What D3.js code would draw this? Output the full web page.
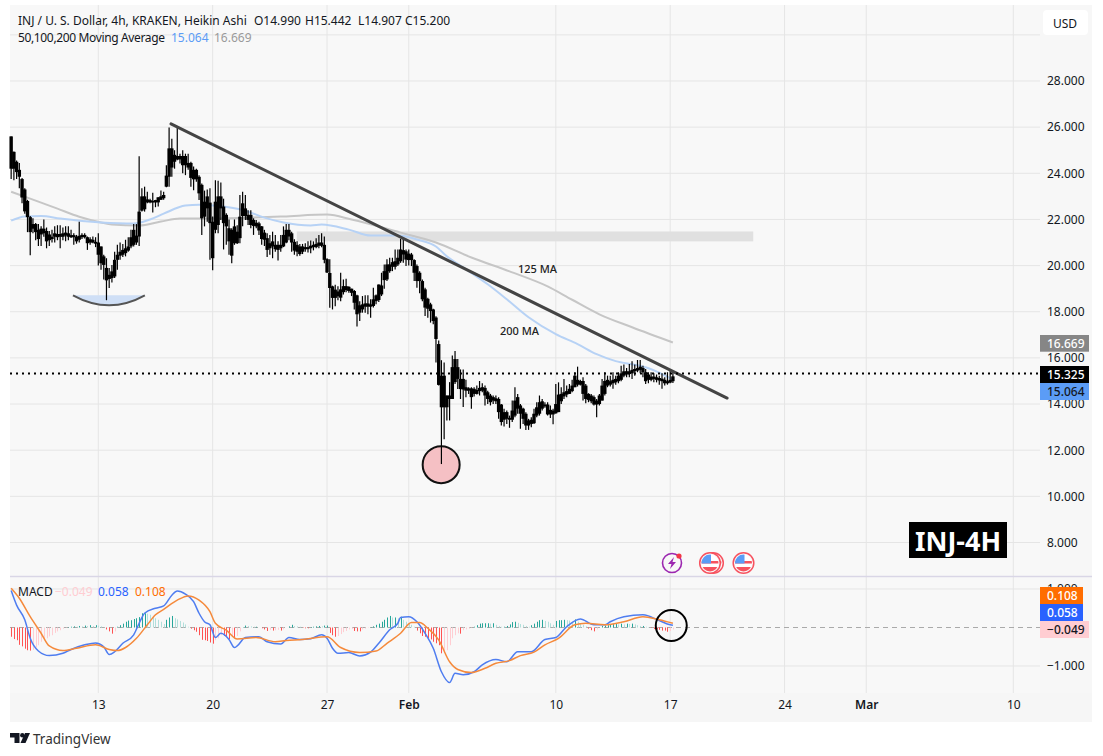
<!DOCTYPE html>
<html>
<head>
<meta charset="utf-8">
<title>INJ / USD 4h</title>
<script src="https://cdnjs.cloudflare.com/ajax/libs/d3/7.8.5/d3.min.js"></script>
<style>
  html, body { margin: 0; padding: 0; background: #fff; }
  svg { display: block; font-family: "Noto Sans", sans-serif; }
  .axis path { display: none; }
  .axis line { display: none; }
  .axis text { font-family: "Noto Sans", sans-serif; font-size: 12px; fill: #131722; }
</style>
</head>
<body>
<div id="chart"></div>
<script>
// candles: all drawn black in the picture, so only body extents are kept
var bodyTop = [
  25.6,24.93,24.5,24.15,23.75,23.3,22.8,22.1,21.8,21.8,
  21.55,21.6,21.6,21.5,21.35,21.25,21.4,21.37,21.37,21.4,
  21.43,21.4,21.32,21.32,21.26,21.29,21.33,21.33,21.23,21.14,
  21.12,21.03,21.0,20.83,20.4,19.9,19.6,19.75,20.25,20.47,
  20.6,20.68,20.75,20.83,21.23,21.55,21.3,22.34,23.0,23.0,
  22.87,22.84,22.8,22.84,22.96,23.0,23.06,23.9,25.08,25.08,
  24.8,24.75,24.75,24.75,24.75,24.45,24.45,24.15,24.15,23.85,
  23.5,22.77,23.0,22.73,21.9,22.77,23.0,23.0,22.56,22.2,
  21.62,21.55,21.7,21.47,22.12,22.7,22.48,22.2,22.2,21.98,
  21.86,21.83,21.7,21.43,21.19,20.97,21.05,20.9,20.9,20.9,
  21.33,21.55,21.55,21.4,21.03,20.9,20.83,20.83,20.8,20.8,
  20.86,20.9,20.94,21.0,21.0,20.9,20.28,19.68,19.1,18.96,
  18.88,18.97,19.11,19.11,19.08,19.0,18.9,18.71,18.28,18.32,
  18.36,18.36,18.32,18.54,18.71,19.18,19.14,19.76,20.05,20.05,
  20.15,20.19,20.34,20.7,20.67,20.62,20.52,20.48,20.24,19.98,
  19.69,19.33,18.97,18.56,18.32,18.1,17.75,16.6,15.23,15.23,
  14.37,14.37,15.6,15.95,15.6,15.09,15.09,14.73,14.68,14.68,
  14.66,14.61,14.7,14.73,14.7,14.51,14.37,14.3,14.25,14.22,
  13.98,13.65,13.65,13.4,13.72,14.15,14.3,13.94,13.8,13.58,
  13.29,13.32,13.58,13.86,14.08,14.12,13.98,13.98,13.75,13.72,
  14.0,14.41,14.44,14.51,14.56,14.66,14.8,15.23,15.05,15.0,
  15.0,14.8,14.44,14.37,14.3,14.15,14.37,14.8,15.0,15.05,
  14.99,15.05,15.09,15.23,15.33,15.42,15.42,15.42,15.48,15.52,
  15.56,15.62,15.56,15.38,15.28,15.19,15.19,15.16,15.13,15.1,
  15.05,14.99,15.05,15.2
];
var bodyBottom = [
  24.2,24.2,24.05,23.85,22.95,22.35,22.1,21.45,21.6,21.45,
  21.15,21.35,21.4,21.05,21.1,21.15,21.25,21.23,21.25,21.25,
  21.3,21.25,21.23,21.23,21.05,21.12,21.23,21.23,20.97,21.0,
  21.0,20.95,20.47,20.1,20.03,19.36,19.42,19.46,19.53,20.25,
  20.43,20.47,20.54,20.65,20.83,20.9,21.0,21.26,22.38,22.44,
  22.74,22.74,22.74,22.74,22.74,22.85,22.92,23.42,23.85,24.25,
  24.5,24.6,24.6,24.35,24.35,24.25,23.8,23.74,23.74,23.13,
  22.05,22.12,22.48,21.84,20.32,21.55,21.76,22.48,21.84,21.7,
  21.05,20.43,20.97,20.97,21.19,22.15,22.15,21.98,21.76,21.72,
  21.7,21.52,21.15,21.12,20.68,20.75,20.83,20.71,20.68,20.75,
  20.83,21.0,21.26,21.0,20.65,20.6,20.5,20.6,20.71,20.71,
  20.75,20.8,20.8,20.86,20.86,20.25,19.7,19.03,18.6,18.6,
  18.67,18.61,18.85,18.94,18.9,18.82,18.39,17.89,17.96,18.1,
  18.22,18.22,18.22,18.25,18.46,18.51,18.75,19.37,19.4,19.76,
  19.95,19.95,20.05,20.19,20.48,20.26,20.24,20.24,19.69,19.33,
  19.33,18.54,18.18,18.13,18.03,17.6,16.82,14.83,13.86,13.86,
  13.86,14.22,14.22,14.95,15.09,14.65,14.63,14.58,14.58,14.3,
  14.44,14.44,14.56,14.58,14.37,14.22,14.08,14.15,14.12,13.65,
  13.22,13.32,13.36,13.32,13.32,13.5,13.8,13.58,13.36,13.07,
  13.07,13.14,13.17,13.5,13.58,13.8,13.9,13.55,13.55,13.55,
  13.6,13.65,14.12,14.33,14.41,14.44,14.56,14.73,14.84,14.84,
  14.44,14.22,14.18,14.12,13.98,13.98,14.0,14.15,14.44,14.8,
  14.84,14.9,14.94,14.99,15.05,15.23,15.28,15.3,15.33,15.42,
  15.45,15.48,15.38,14.99,15.05,15.05,15.09,15.05,15.02,14.99,
  14.9,14.9,14.93,14.99
];
var wickHigh = [
  25.6,24.95,24.55,24.45,23.8,23.35,22.85,22.15,22.05,21.85,
  21.8,21.7,22.0,21.65,21.5,21.55,21.7,21.75,21.75,21.65,
  21.7,21.7,21.55,21.4,21.33,21.9,21.4,21.4,21.26,21.23,
  21.26,21.23,21.4,20.83,20.47,20.32,19.9,20.03,20.6,20.9,
  21.0,20.94,21.12,21.23,21.55,21.8,21.8,24.74,23.35,23.42,
  23.2,22.9,23.16,22.85,22.96,23.25,23.2,24.35,25.98,25.5,
  25.0,26.0,24.85,25.0,24.85,24.85,24.5,24.3,24.2,23.92,
  23.56,23.25,23.3,23.35,22.13,23.7,23.68,23.6,22.9,22.27,
  22.0,21.62,22.0,21.75,23.06,23.2,23.06,22.4,22.4,22.05,
  21.98,21.9,21.72,21.55,21.4,21.33,21.47,21.33,21.05,21.33,
  21.7,21.8,21.8,21.47,21.14,21.05,20.94,20.94,20.97,21.05,
  21.09,21.05,21.19,21.33,21.4,21.26,20.32,20.28,19.13,19.17,
  19.1,19.69,19.4,19.43,19.11,19.0,18.94,18.74,18.46,18.68,
  18.71,18.71,18.54,19.04,18.75,19.18,19.69,20.05,20.27,20.34,
  20.34,20.7,20.7,21.16,21.2,20.7,20.7,20.55,20.27,20.05,
  19.76,19.4,19.04,18.61,18.39,18.13,17.8,16.75,15.9,15.8,
  14.37,14.95,16.1,16.3,15.95,15.5,15.5,15.05,14.73,14.73,
  14.73,14.8,15.0,14.9,14.8,14.58,14.44,14.37,14.37,14.3,
  14.0,13.8,13.72,13.5,14.15,14.73,14.44,14.0,13.84,13.65,
  13.36,13.43,13.8,14.08,14.37,14.22,14.08,14.08,13.94,13.8,
  14.87,14.94,14.73,15.09,14.8,14.87,15.05,15.38,15.62,15.05,
  15.16,14.87,14.47,14.44,14.37,14.22,14.44,15.09,15.38,15.23,
  15.23,15.38,15.23,15.38,15.66,15.71,15.56,15.74,15.85,15.71,
  15.91,15.91,15.66,15.52,15.38,15.38,15.33,15.28,15.23,15.33,
  15.16,15.38,15.47,15.44
];
var wickLow = [
  23.75,23.7,23.75,23.35,22.7,22.25,21.45,20.45,21.4,21.1,
  20.85,20.85,21.25,20.75,20.85,21.0,21.0,21.1,20.75,21.1,
  21.05,21.1,21.2,20.9,20.95,21.0,21.15,21.17,20.68,20.9,
  20.97,20.8,20.0,19.82,19.4,18.5,19.03,19.27,19.46,19.82,
  20.25,20.37,20.4,20.6,20.75,20.83,20.9,20.85,22.34,22.34,
  22.7,22.7,22.3,22.53,22.56,22.85,22.85,23.4,23.42,23.85,
  24.2,24.57,24.43,24.0,23.92,24.15,23.42,23.27,23.63,22.84,
  21.33,21.7,21.9,20.25,19.8,21.4,21.4,21.98,20.7,20.9,
  20.47,20.1,20.9,20.94,20.97,21.7,21.98,21.76,21.62,21.33,
  21.62,21.33,20.9,20.85,20.37,20.47,20.32,20.6,20.22,20.6,
  20.8,20.97,21.1,20.6,20.47,20.4,20.43,20.5,20.6,20.57,
  20.54,20.66,20.75,20.75,20.8,20.1,19.68,18.17,18.1,18.24,
  18.5,18.46,18.75,18.85,18.82,18.68,18.1,17.36,17.6,17.96,
  17.96,17.89,17.74,18.18,18.32,18.42,18.68,19.0,19.33,19.69,
  19.76,19.83,19.98,20.12,20.12,19.98,20.0,19.98,19.33,19.04,
  18.8,18.46,17.82,17.74,17.53,17.46,15.8,14.8,11.4,12.47,
  13.29,13.29,14.22,14.87,14.65,14.22,13.87,14.3,14.44,13.8,
  14.33,14.41,14.37,14.51,13.94,14.0,13.94,14.0,14.0,13.36,
  13.07,13.03,13.14,12.97,13.22,13.43,13.58,12.93,13.14,12.88,
  12.88,13.0,13.14,13.43,13.5,13.72,13.84,13.5,13.4,13.12,
  13.58,13.65,14.0,14.22,14.3,14.44,14.51,14.73,14.76,14.8,
  14.15,14.04,14.08,14.04,13.94,13.43,13.94,14.15,14.37,14.73,
  14.76,14.66,14.84,14.9,14.99,15.16,15.16,15.16,15.09,15.23,
  15.38,15.33,15.16,14.87,14.9,14.99,14.94,14.94,14.84,14.66,
  14.8,14.84,14.9,14.91
];

// moving averages, read at a few candle positions
var ma200Index = [0,5,11,18,33,45,51,56,64,69,78,86,93,100,110,114,124,132,142,149,156,160,166,175,182,190,200,208,215,222,230,235,243];
var ma200Value = [21.95,22.13,22.15,22.04,21.87,21.82,22.0,22.25,22.6,22.64,22.56,22.38,22.08,21.87,21.74,21.78,21.56,21.3,21.3,21.13,20.83,20.4,19.92,19.19,18.54,17.76,17.03,16.6,16.16,15.86,15.68,15.51,15.06];
var ma125Index = [0,8,17,25,33,37,47,55,62,74,89,100,116,125,143,156,169,183,197,206,216,228,243];
var ma125Value = [23.2,22.86,22.47,22.12,21.87,21.78,21.74,21.91,22.04,22.04,22.08,22.13,22.21,22.0,21.43,21.0,20.35,19.75,19.1,18.52,17.89,17.33,16.67];

// MACD pane
var histValue = [
  -.24,-.3,-.33,-.45,-.49,-.55,-.59,-.6,-.58,-.52,
  -.46,-.37,-.33,-.28,-.23,-.2,-.14,-.1,-.07,-.03,
  -.01,.01,.02,.03,.02,.04,.03,.05,.04,.06,
  .04,.06,.05,.03,.01,-.05,-.1,-.16,-.1,.02,
  .06,.1,.15,.18,.19,.22,.24,.27,.37,.37,
  .36,.33,.28,.24,.2,.15,.09,.2,.26,.3,
  .24,.21,.17,.13,.08,.02,-.03,-.07,-.11,-.2,
  -.32,-.33,-.35,-.39,-.42,-.33,-.28,-.2,-.22,-.25,
  -.3,-.24,-.28,-.22,-.1,.01,.05,.04,.03,.02,
  .02,0,-.02,-.05,-.09,-.06,-.08,-.07,-.06,-.08,
  -.05,0,.03,.07,.04,.03,.02,-.01,-.02,-.02,
  .01,.02,.03,.04,.03,.05,.05,-.14,-.2,-.24,
  -.22,-.17,-.12,-.09,-.05,-.04,-.09,-.1,-.1,-.05,
  -.03,-.01,.01,.03,.07,.1,.15,.2,.26,.3,
  .26,.26,.24,.28,.2,.15,.11,.07,.02,-.08,
  -.15,-.22,-.24,-.28,-.31,-.37,-.41,-.46,-.67,-.66,
  -.59,-.46,-.28,-.2,-.15,-.16,-.07,-.05,-.03,-.01,
  .02,.06,.1,.11,.11,.11,.1,.11,.07,.04,
  .02,.02,.04,.08,.14,.15,.12,.09,.07,.04,
  .02,.06,.1,.15,.19,.2,.17,.15,.11,.07,
  .17,.19,.19,.2,.19,.18,.15,.21,.15,.11,
  .07,.03,-.03,-.07,-.1,-.05,0,.04,.05,.06,
  .08,.09,.09,.08,.1,.08,.1,.09,.1,.08,
  .06,.04,.04,.02,.01,-.01,-.04,-.05,-.06,-.08,
  -.08,-.11,-.09,-.05
];
var macdIndex = [0,2,5,7,10,14,19,22,27,31,34,36,38,41,45,47,49,53,56,59,61,64,67,69,71,73,75,77,80,82,83,86,91,94,99,102,106,110,114,116,118,120,124,128,132,135,139,142,143,146,149,152,155,158,161,163,166,170,173,178,182,186,191,196,200,204,209,214,218,220,225,232,238,242,243];
var macdValue = [.96,.58,.2,-.28,-.61,-.73,-.67,-.57,-.45,-.4,-.5,-.7,-.63,-.41,-.19,.11,.37,.5,.56,.84,.95,.87,.67,.37,.15,.07,-.26,-.15,-.31,-.52,-.48,-.26,-.24,-.37,-.43,-.26,-.31,-.29,-.19,-.28,-.54,-.67,-.65,-.74,-.64,-.41,-.06,.11,.26,.28,.15,-.15,-.54,-1.15,-1.43,-1.19,-1.23,-1.15,-.97,-.83,-.89,-.63,-.63,-.31,-.26,.02,.22,.07,.07,.15,.28,.33,.18,.07,.058];
var signalIndex = [0,3,7,11,14,19,24,31,36,39,42,46,50,53,56,61,65,69,73,75,79,83,90,97,101,107,116,121,128,134,138,143,147,150,153,157,161,164,169,174,178,183,187,192,196,201,207,211,218,225,232,238,243];
var signalValue = [1.02,.76,.28,-.15,-.48,-.6,-.54,-.45,-.57,-.6,-.52,-.28,.07,.33,.47,.71,.82,.71,.41,.11,-.07,-.3,-.26,-.37,-.34,-.31,-.24,-.52,-.65,-.61,-.41,-.15,.13,.13,-.02,-.32,-.89,-1.09,-1.17,-1.06,-.93,-.86,-.73,-.64,-.45,-.28,.07,.11,.07,.15,.28,.2,.108];

// axes
var priceTicks = [30,28,26,24,22,20,18,16,14,12,10,8];
var macdTicks = [1,-1];
var dateTickIndex = [32,74,116,146,200,242,284,314,368];
var dateTickLabel = ['13','20','27','Feb','10','17','24','Mar','10'];

// drawings on the chart
var trendIndex = [58.7,262.9];
var trendPrice = [26.14,14.26];
var zoneIndex = [104.9,272.5];
var zonePrice = [21.48,21.05];
var bowlIndex = [22.7,36,49.1];
var bowlPrice = [18.71,17.85,18.71];

var W = 1103, H = 756;
var paneLeft = 10, paneRight = 1092, paneTop = 5, paneBottom = 722, axisX = 1040;

var x = d3.scaleLinear().domain([32,368]).range([98.3,1013.3]);
var y = d3.scaleLinear().domain([28,8]).range([81,542.5]);
var yMacd = d3.scaleLinear().domain([1,-1]).range([589,666]);

var candles = bodyTop.map(function (d, i) {
  return { i: i, top: d, bottom: bodyBottom[i], high: wickHigh[i], low: wickLow[i] };
});

var svg = d3.select('#chart').append('svg').attr('width', W).attr('height', H);

svg.append('rect').attr('x', paneLeft).attr('y', paneTop)
  .attr('width', paneRight - paneLeft).attr('height', paneBottom - paneTop)
  .attr('fill', '#f8f8f8');
svg.append('rect').attr('x', paneLeft).attr('y', 693)
  .attr('width', paneRight - paneLeft).attr('height', paneBottom - 693)
  .attr('fill', '#f6f6f6');
svg.append('rect').attr('x', axisX).attr('y', paneTop)
  .attr('width', paneRight - axisX).attr('height', 693 - paneTop)
  .attr('fill', '#f7f7f7');

// grid
var grid = svg.append('g').attr('stroke', '#e5e5e5').attr('stroke-width', 1);
grid.selectAll('line.v').data(dateTickIndex).enter().append('line')
  .attr('x1', function (d) { return x(d); }).attr('x2', function (d) { return x(d); })
  .attr('y1', paneTop).attr('y2', 693);
grid.selectAll('line.h').data(priceTicks).enter().append('line')
  .attr('x1', paneLeft).attr('x2', axisX)
  .attr('y1', function (d) { return y(d); }).attr('y2', function (d) { return y(d); });
grid.selectAll('line.m').data(macdTicks).enter().append('line')
  .attr('x1', paneLeft).attr('x2', axisX)
  .attr('y1', function (d) { return yMacd(d); }).attr('y2', function (d) { return yMacd(d); });

svg.append('line').attr('x1', paneLeft).attr('x2', paneRight).attr('y1', 576.5).attr('y2', 576.5)
  .attr('stroke', '#d9d6e6').attr('stroke-width', 1.5);

// resistance zone
svg.append('rect')
  .attr('x', x(zoneIndex[0])).attr('width', x(zoneIndex[1]) - x(zoneIndex[0]))
  .attr('y', y(zonePrice[0])).attr('height', y(zonePrice[1]) - y(zonePrice[0]))
  .attr('fill', '#e0e0e0');

// moving averages
var maLine = d3.line().x(function (d) { return x(d[0]); }).y(function (d) { return y(d[1]); }).curve(d3.curveMonotoneX);
svg.append('path').attr('d', maLine(d3.zip(ma125Index, ma125Value)))
  .attr('fill', 'none').attr('stroke', '#c6c6c6').attr('stroke-width', 2);
svg.append('path').attr('d', maLine(d3.zip(ma200Index, ma200Value)))
  .attr('fill', 'none').attr('stroke', '#b7d2f5').attr('stroke-width', 2);

// bowl under the January low
var bowl = d3.path();
bowl.moveTo(x(bowlIndex[0]), y(bowlPrice[0]));
bowl.quadraticCurveTo(x(bowlIndex[1]), y(bowlPrice[1]), x(bowlIndex[2]), y(bowlPrice[2]));
svg.append('path').attr('d', bowl.toString()).attr('fill', '#cfdff6').attr('stroke', 'none');
svg.append('path').attr('d', bowl.toString()).attr('fill', 'none').attr('stroke', '#555').attr('stroke-width', 2);

// circle on the February wick
svg.append('circle').attr('cx', x(157.9)).attr('cy', y(11.37)).attr('r', 18.5)
  .attr('fill', '#f5c0c4').attr('stroke', '#111').attr('stroke-width', 2);

// candles
svg.append('g').selectAll('line').data(candles).enter().append('line')
  .attr('x1', function (d) { return x(d.i); })
  .attr('x2', function (d) { return x(d.i); })
  .attr('y1', function (d) { return y(d.high); })
  .attr('y2', function (d) { return y(d.low); })
  .attr('stroke', '#000').attr('stroke-width', 1.2);
svg.append('g').selectAll('rect').data(candles).enter().append('rect')
  .attr('x', function (d) { return x(d.i) - 1.7; })
  .attr('width', 3.4)
  .attr('y', function (d) { return y(d.top); })
  .attr('height', function (d) { return Math.max(1.5, y(d.bottom) - y(d.top)); })
  .attr('fill', '#000');

// trend line
svg.append('line')
  .attr('x1', x(trendIndex[0])).attr('y1', y(trendPrice[0]))
  .attr('x2', x(trendIndex[1])).attr('y2', y(trendPrice[1]))
  .attr('stroke', '#444').attr('stroke-width', 3).attr('stroke-linecap', 'round');

// last price line
svg.append('line').attr('x1', paneLeft).attr('x2', axisX)
  .attr('y1', y(15.325)).attr('y2', y(15.325))
  .attr('stroke', '#000').attr('stroke-width', 2).attr('stroke-dasharray', '2 4');

svg.append('text').attr('x', 518).attr('y', 273).attr('font-size', 11).attr('font-weight', 500).attr('fill', '#222').text('125 MA');
svg.append('text').attr('x', 500).attr('y', 335).attr('font-size', 11).attr('font-weight', 500).attr('fill', '#222').text('200 MA');

// MACD
svg.append('line').attr('x1', paneLeft).attr('x2', axisX)
  .attr('y1', yMacd(0)).attr('y2', yMacd(0))
  .attr('stroke', '#aaa').attr('stroke-width', 1).attr('stroke-dasharray', '5 4');

svg.append('g').selectAll('rect').data(histValue).enter().append('rect')
  .attr('x', function (d, i) { return Math.round(x(i)); })
  .attr('width', 1)
  .attr('y', function (d) { return Math.min(yMacd(d), yMacd(0)); })
  .attr('height', function (d) { return Math.abs(yMacd(d) - yMacd(0)); })
  .attr('fill', function (d, i) {
    var prev = i > 0 ? histValue[i - 1] : d;
    if (d >= 0) return d >= prev ? '#26a69a' : '#b2dfdb';
    return d <= prev ? '#ff5252' : '#ffcdd2';
  });

var macdLine = d3.line().x(function (d) { return x(d[0]); }).y(function (d) { return yMacd(d[1]); }).curve(d3.curveMonotoneX);
svg.append('path').attr('d', macdLine(d3.zip(macdIndex, macdValue)))
  .attr('fill', 'none').attr('stroke', '#4f7df0').attr('stroke-width', 1.5);
svg.append('path').attr('d', macdLine(d3.zip(signalIndex, signalValue)))
  .attr('fill', 'none').attr('stroke', '#f58a3c').attr('stroke-width', 1.5);

svg.append('circle').attr('cx', x(242.4)).attr('cy', yMacd(0.05)).attr('r', 15.5)
  .attr('fill', 'none').attr('stroke', '#000').attr('stroke-width', 2);

// axes
svg.append('g').attr('class', 'axis').attr('transform', 'translate(' + (axisX + 1) + ',0)')
  .call(d3.axisRight(y).tickValues(priceTicks.slice(1)).tickFormat(d3.format('.3f')).tickSize(0).tickPadding(6));
svg.append('g').attr('class', 'axis').attr('transform', 'translate(' + (axisX + 1) + ',0)')
  .call(d3.axisRight(yMacd).tickValues(macdTicks).tickFormat(d3.format('.3f')).tickSize(0).tickPadding(6));
svg.append('g').attr('class', 'axis').attr('transform', 'translate(0,697)')
  .call(d3.axisBottom(x).tickValues(dateTickIndex).tickFormat(function (d, i) { return dateTickLabel[i]; }).tickSize(0).tickPadding(3))
  .selectAll('text').attr('font-weight', function (d, i) { return dateTickLabel[i] === 'Feb' || dateTickLabel[i] === 'Mar' ? 600 : 400; });

// price tags on the axis
function tag(top, h, w, fill, color, label) {
  svg.append('rect').attr('x', axisX).attr('y', top).attr('width', w).attr('height', h).attr('fill', fill);
  svg.append('text').attr('x', axisX + 7).attr('y', top + h / 2 + 4.5)
    .attr('font-size', 12).attr('font-weight', 500).attr('fill', color).text(label);
}
tag(335, 16.7, 49, '#868686', '#fff', '16.669');
tag(366, 17, 49, '#000', '#fff', '15.325');
tag(383, 17, 49, '#5b9cf6', '#131722', '15.064');
tag(587, 17, 43, '#ff6d00', '#fff', '0.108');
tag(604, 17, 43, '#2962ff', '#fff', '0.058');
tag(621, 17, 49, '#ffcdd2', '#131722', '\u22120.049');

// currency button
svg.append('rect').attr('x', 1043).attr('y', 10).attr('width', 45).attr('height', 25).attr('rx', 4).attr('fill', '#fff');
svg.append('text').attr('x', 1065).attr('y', 28).attr('text-anchor', 'middle').attr('font-size', 12).attr('fill', '#131722').text('USD');

// legends
function label(px, py, text, color, spacing) {
  svg.append('text').attr('x', px).attr('y', py).attr('font-size', 12).attr('fill', color)
    .attr('letter-spacing', spacing || 0).text(text);
}
label(18, 25, 'INJ / U. S. Dollar, 4h, KRAKEN, Heikin Ashi', '#131722');
label(254, 25, 'O14.990', '#131722');
label(305, 25, 'H15.442', '#131722');
label(358, 25, 'L14.907', '#131722');
label(405, 25, 'C15.200', '#131722');
label(18, 42, '50,100,200 Moving Average', '#131722', -0.36);
label(171, 42, '15.064', '#5b9cf6');
label(214, 42, '16.669', '#9a9a9a');
label(18, 596, 'MACD', '#131722');
label(55, 596, '\u22120.049', '#ffcdd2');
label(98, 596, '0.058', '#2962ff');
label(135, 596, '0.108', '#ff6d00');

// INJ-4H badge
svg.append('rect').attr('x', 909).attr('y', 522).attr('width', 98).attr('height', 36).attr('fill', '#000');
svg.append('text').attr('x', 958).attr('y', 551).attr('text-anchor', 'middle')
  .attr('font-size', 27).attr('font-weight', 700).attr('fill', '#fff').text('INJ-4H');

// event icons
var bolt = svg.append('g').attr('transform', 'translate(672,563)');
bolt.append('circle').attr('r', 9.5).attr('fill', '#f8f8f8').attr('stroke', '#9c27b0').attr('stroke-width', 1.6);
bolt.append('path').attr('d', 'M2,-6 L-4,1 L-0.5,1 L-2,6 L4,-1 L0.5,-1 Z').attr('fill', '#9c27b0');
bolt.append('circle').attr('cx', 7).attr('cy', -7).attr('r', 2.6).attr('fill', '#f23645');

var defs = svg.append('defs');
defs.append('clipPath').attr('id', 'flagClip').append('circle').attr('r', 8.5);
function flag(cx) {
  var f = svg.append('g').attr('transform', 'translate(' + cx + ',563)');
  f.append('circle').attr('r', 10.3).attr('fill', '#f8f8f8').attr('stroke', '#f7525f').attr('stroke-width', 1.5);
  var inner = f.append('g').attr('clip-path', 'url(#flagClip)');
  inner.append('rect').attr('x', -9).attr('y', -9).attr('width', 18).attr('height', 18).attr('fill', '#fff');
  inner.append('rect').attr('x', -9).attr('y', -2).attr('width', 18).attr('height', 2.5).attr('fill', '#f7525f');
  inner.append('rect').attr('x', -9).attr('y', 4).attr('width', 18).attr('height', 5).attr('fill', '#f7525f');
  inner.append('rect').attr('x', -9).attr('y', -9).attr('width', 10).attr('height', 9.5).attr('fill', '#5b9cf6');
}
flag(713);
flag(710);
flag(743.5);

// footer logo
var logo = svg.append('g').attr('fill', '#131722');
logo.append('path').attr('d', 'M10,733 H19.5 V743 H14.5 V737.5 H10 Z');
logo.append('circle').attr('cx', 22.3).attr('cy', 735.2).attr('r', 2.2);
logo.append('path').attr('d', 'M25,733 H30 L25.5,743 H20.5 Z');
svg.append('text').attr('x', 33).attr('y', 744).attr('font-size', 13.5).attr('fill', '#333').text('TradingView');
</script>
</body>
</html>
